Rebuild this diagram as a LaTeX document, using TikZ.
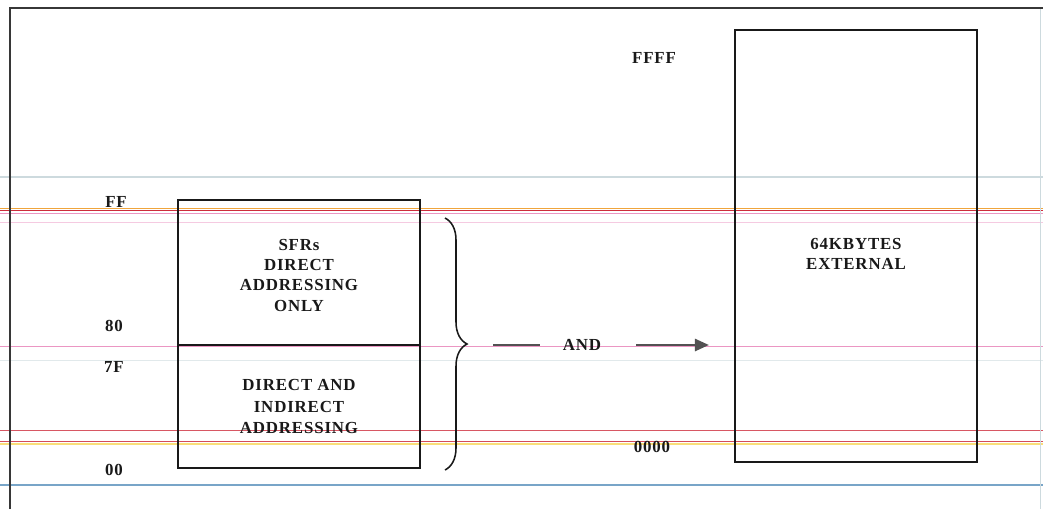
\documentclass[tikz,border=0pt]{standalone}
\usepackage{fontspec}
\setmainfont{Liberation Serif}[LetterSpace=5]
\usetikzlibrary{arrows.meta, positioning, decorations.pathreplacing}
\definecolor{ink}{RGB}{25,25,25}
\definecolor{frameg}{RGB}{55,55,55}
\definecolor{rulered}{RGB}{205,45,60}
\definecolor{rulepink}{RGB}{235,150,195}
\definecolor{ruleorange}{RGB}{240,165,60}
\definecolor{ruleyellow}{RGB}{250,222,120}
\definecolor{ruleblue}{RGB}{120,165,200}
\definecolor{rulegrey}{RGB}{205,218,222}

\begin{document}
\begin{tikzpicture}[x=0.025cm, y=-0.025cm,
    membox/.style={draw=ink, line width=1.4pt, minimum width=6.05cm, inner sep=0pt},
    txt/.style={text=ink, font=\fontsize{12}{14.5}\selectfont\bfseries, align=center},
    addr/.style={text=ink, font=\fontsize{12}{14}\selectfont\bfseries, inner sep=0pt},
    link/.style={draw=ink!75, line width=1.8pt}]
  \useasboundingbox (0,0) rectangle (1043,509);
  % ruled lines of the scanned paper
  \draw[rulegrey, line width=0.8pt] (0,177) -- (1043,177);
  \draw[ruleorange, line width=0.6pt] (0,208.8) -- (1043,208.8);
  \draw[rulered, line width=1.1pt] (0,210.5) -- (1043,210.5);
  \draw[rulepink, line width=0.8pt] (0,213.5) -- (1043,213.5);
  \draw[rulepink!50, line width=0.4pt] (0,222) -- (1043,222);
  \draw[rulepink, line width=0.4pt] (0,346) -- (1043,346);
  \draw[rulegrey!60, line width=0.4pt] (0,360) -- (1043,360);
  \draw[rulered!80, line width=0.5pt] (0,430) -- (1043,430);
  \draw[rulered!85, line width=0.9pt] (0,441.5) -- (1043,441.5);
  \draw[ruleyellow, line width=1pt] (0,444) -- (1043,444);
  \draw[ruleblue, line width=1.2pt] (0,485) -- (1043,485);
  \draw[rulegrey, line width=0.6pt] (1040,8) -- (1040,509);
  \draw[frameg, line width=1.4pt] (10,509) -- (10,8) -- (1043,8);

  \node[membox, txt, minimum height=3.625cm] (sfr) at (299,272.5)
    {\\[-0.1cm]SFRs\\DIRECT\\ADDRESSING\\ONLY};
  \node[membox, txt, minimum height=3.075cm, font=\fontsize{12}{15.5}\selectfont\bfseries] (low) at (299,406.5)
    {DIRECT AND\\INDIRECT\\ADDRESSING};
  \node[membox, minimum height=10.8cm] (ext) at (856,246) {};
  \node[txt] (extlbl) at (856,254) {64KBYTES\\EXTERNAL};

  \node[addr] (ff) at (116,202) {FF};
  \node[addr] (a80) at (114,326) {80};
  \node[addr] (a7f) at (114,367) {7F};
  \node[addr] (a00) at (114,470) {00};
  \node[addr] (ffff) at (654,58) {FFFF};
  \node[addr] (a0000) at (652,447) {0000};

  \coordinate (brtop) at (445,218);
  \coordinate (brbot) at (445,470);
  \coordinate (brtip) at (493,345);
  \draw[ink, line width=1.1pt, decorate, decoration={brace, amplitude=0.55cm}]
    (brtop) -- (brbot);

  \node[addr] (and) at (582,345) {AND};
  \draw[link, shorten >=0.575cm] (brtip) -- (and);
  \draw[link, -{Triangle[length=0.35cm, width=0.3cm]}, shorten <=0.875cm, shorten >=0.625cm]
    (and) -- (and -| ext.west);
\end{tikzpicture}
\end{document}
